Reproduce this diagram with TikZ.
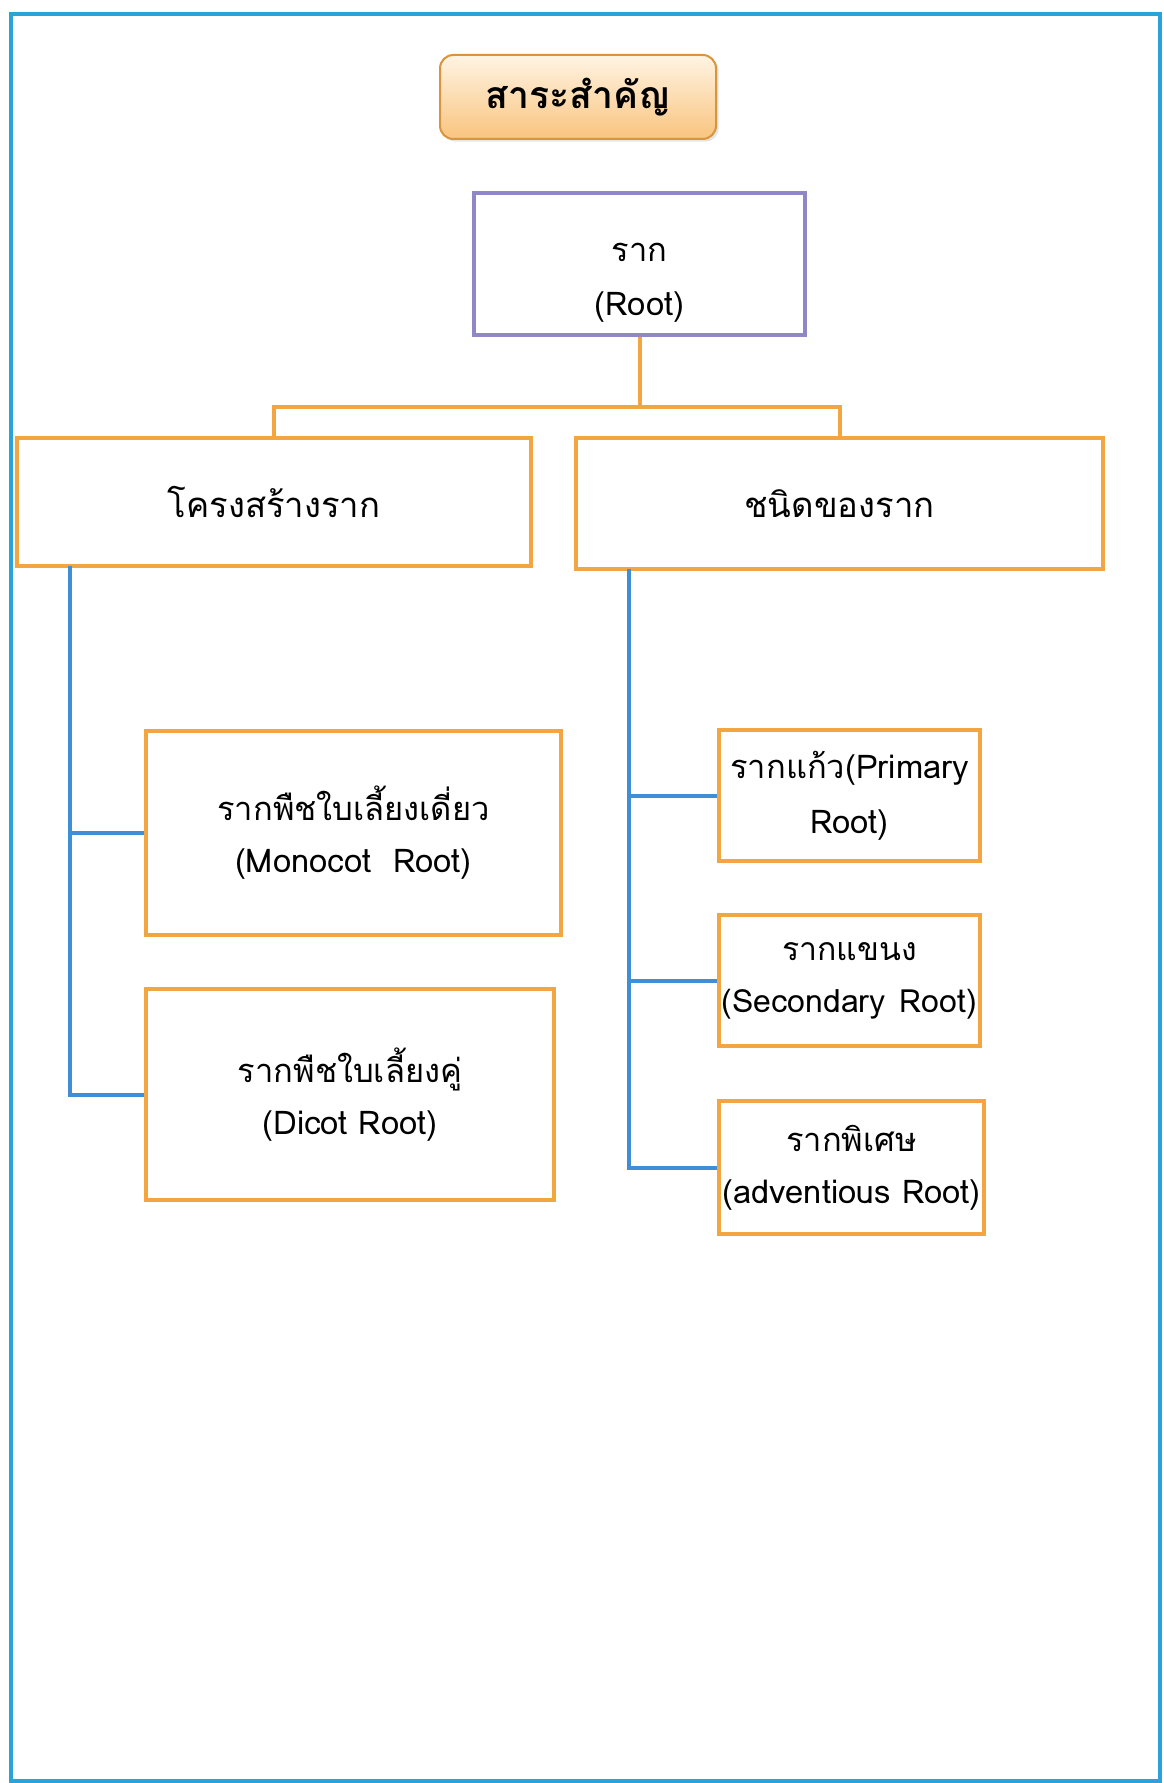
\documentclass[tikz,border=0pt]{standalone}
\usepackage{fontspec}
\setmainfont{Loma}[Script=Thai]
\usetikzlibrary{shadows}
\definecolor{frameblue}{HTML}{2AA3DB}
\definecolor{linkblue}{HTML}{3F8FD8}
\definecolor{boxorange}{HTML}{F2A540}
\definecolor{rootpurple}{HTML}{8F87C6}
\definecolor{titletop}{HTML}{FFF4E3}
\definecolor{titlebot}{HTML}{F9C47F}
\tikzset{
  obox/.style={draw=boxorange, line width=3pt, fill=white, align=center, inner sep=2pt,
    font=\fontsize{24.5}{39}\selectfont},
  olink/.style={draw=boxorange, line width=3pt},
  blink/.style={draw=linkblue, line width=3pt},
}
\begin{document}
\begin{tikzpicture}[x=0.75pt, y=-0.75pt]
\useasboundingbox (0,0) rectangle (1163,1783);
\fill[white] (0,0) rectangle (1163,1783);
\draw[frameblue, line width=3.5pt] (11,14) rectangle (1160,1781);

% title
\node[draw=boxorange!90!black, line width=1.5pt, rounded corners=10pt,
  top color=titletop, bottom color=titlebot,
  drop shadow={opacity=0.2, shadow xshift=2pt, shadow yshift=-2pt},
  minimum width=207pt, minimum height=63pt,
  font=\fontsize{28}{34}\selectfont\bfseries] (title) at (578,97) {สาระสำคัญ};

% root
\node[draw=rootpurple, line width=3pt, fill=white,
  minimum width=248pt, minimum height=106.5pt,
  label={[align=center, yshift=-14pt, font=\fontsize{24.5}{41}\selectfont]center:ราก\\(Root)}] (root) at (639.5,264) {};

% level 2
\node[obox, font=\fontsize{26}{39}\selectfont, minimum width=385.5pt, minimum height=96pt] (left) at (274,502) {โครงสร้างราก};
\node[obox, font=\fontsize{26}{39}\selectfont, minimum width=395pt, minimum height=98pt] (right) at (839.5,503.5) {ชนิดของราก};

% level 3 left
\node[obox, minimum width=311pt, minimum height=153pt] (mono) at (353.5,833)
  {รากพืชใบเลี้ยงเดี่ยว\\(Monocot\ \ Root)};
\node[obox, minimum width=306pt, minimum height=158pt] (dicot) at (350,1094.5)
  {รากพืชใบเลี้ยงคู่\\(Dicot Root)};

% level 3 right
\node[obox, minimum width=196pt, minimum height=98pt, font=\fontsize{24.5}{41}\selectfont] (prim) at (849.5,795.5)
  {รากแก้ว(Primary\\Root)};
\node[obox, inner xsep=0pt, minimum width=196pt, minimum height=98pt, font=\fontsize{24}{39}\selectfont] (sec) at (849.5,980.5)
  {รากแขนง\\(Secondary\hspace{0.45em}Root)};
\node[obox, inner xsep=0pt, minimum width=199pt, minimum height=100pt] (adv) at (851.5,1167.5)
  {รากพิเศษ\\(adventious Root)};

% orange connectors
\coordinate (bar) at (640,407);
\draw[olink] (root.south) -- (root.south |- bar);
\draw[olink] (left.north) |- (bar) -| (right.north);

% blue connectors
\coordinate (lv) at (70,566);
\coordinate (rv) at (629,569);
\draw[blink] (lv) |- (dicot.west);
\draw[blink] (mono.west) -- (mono.west -| lv);
\draw[blink] (rv) |- (adv.west);
\draw[blink] (prim.west) -- (prim.west -| rv);
\draw[blink] (sec.west) -- (sec.west -| rv);
\end{tikzpicture}
\end{document}
